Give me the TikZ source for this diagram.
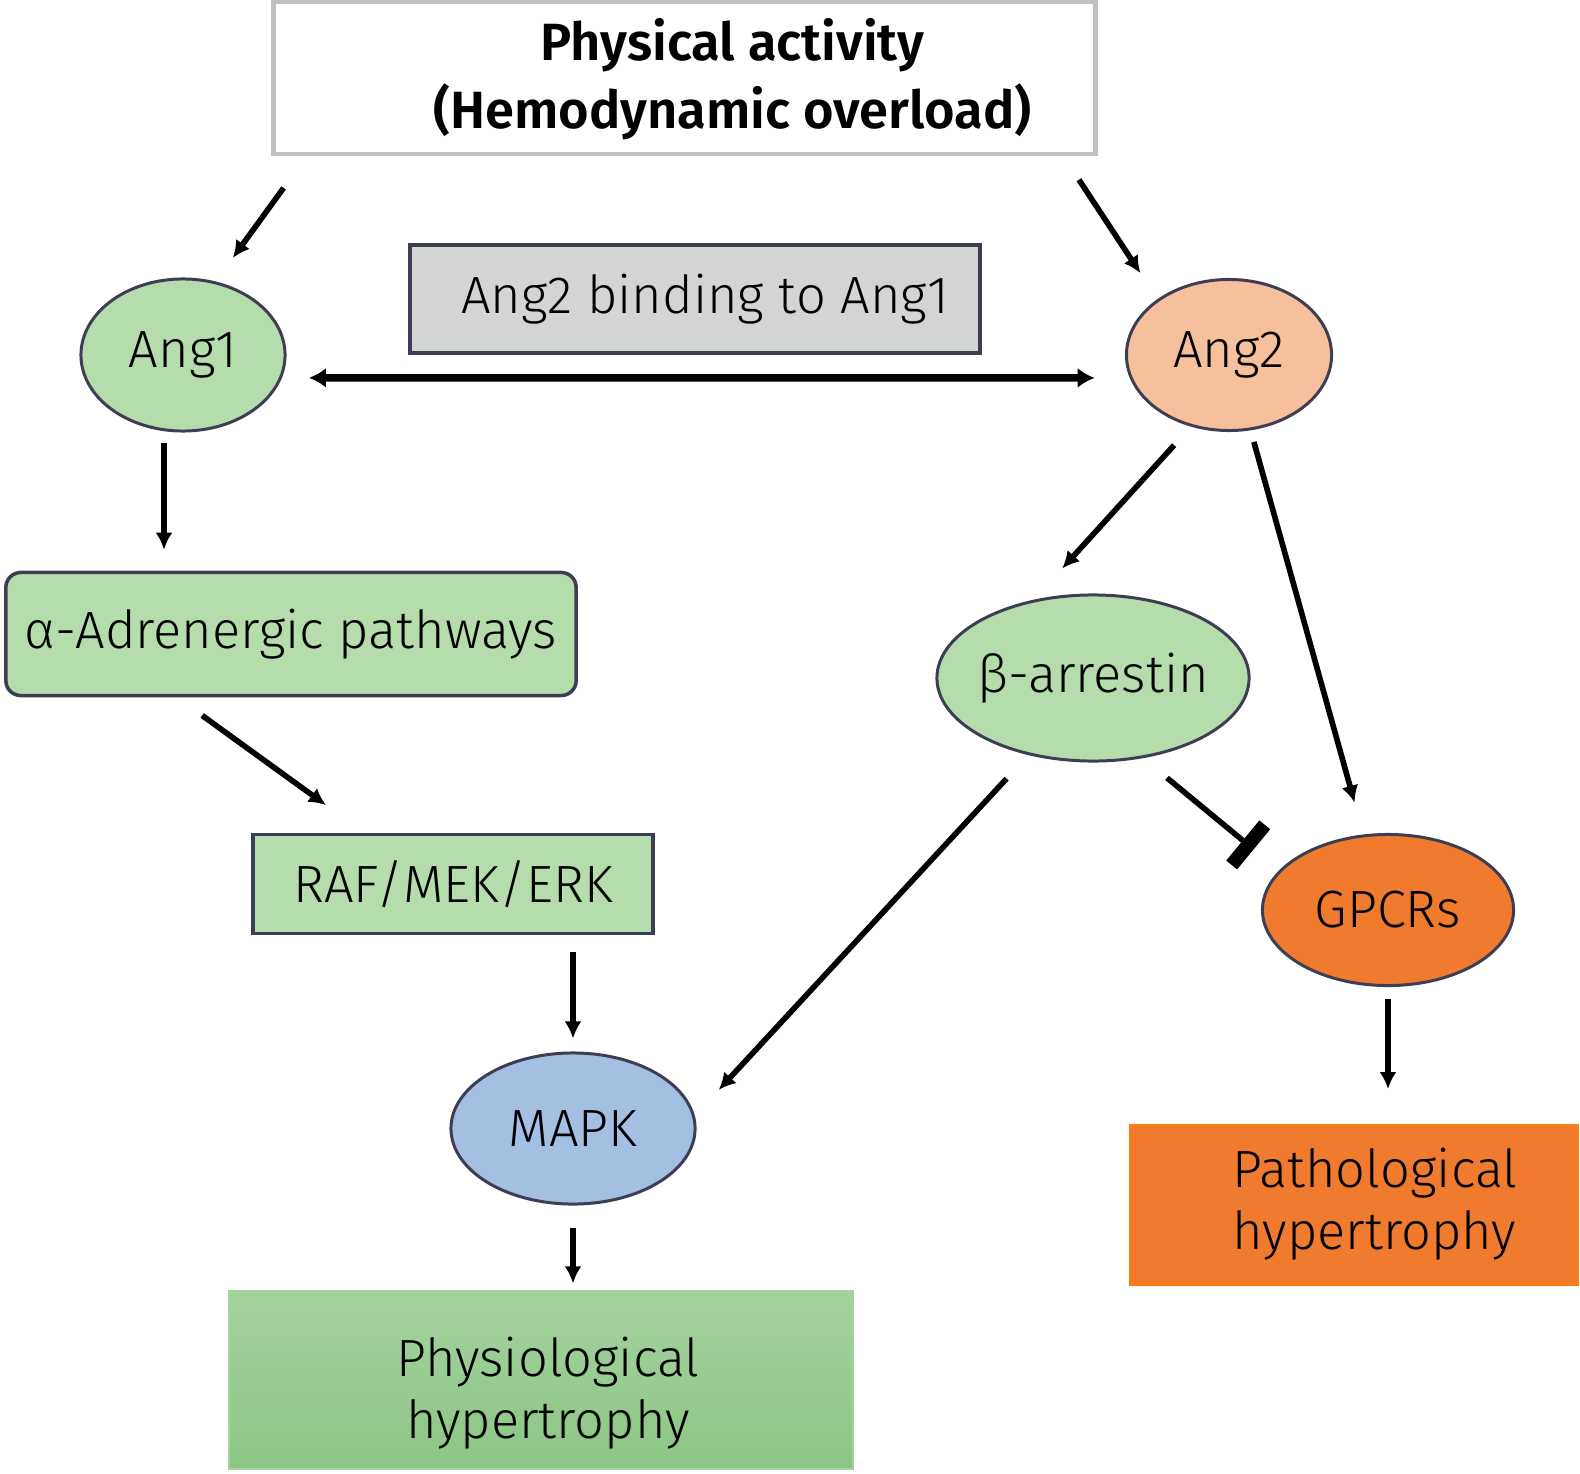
\documentclass[tikz,border=0pt]{standalone}
\usepackage{fontspec}
\setmainfont{Fira Sans}[UprightFont=* Light, BoldFont=* SemiBold]
\usetikzlibrary{positioning, calc, shapes.geometric, arrows.meta}
\definecolor{leafgreen}{HTML}{B5DCAB}
\definecolor{peach}{HTML}{F7C09C}
\definecolor{skyblue}{HTML}{A3BFE2}
\definecolor{tangerine}{HTML}{F07A2E}
\definecolor{slateline}{HTML}{3D3D55}
\definecolor{bindgray}{HTML}{D3D4D4}
\definecolor{physiotop}{HTML}{A4D39E}
\definecolor{physiobot}{HTML}{8BC683}

\begin{document}
\begin{tikzpicture}[x=0.01cm, y=-0.01cm,
    font=\fontsize{14.9}{17.8}\selectfont,
    oval/.style={ellipse, draw=slateline, line width=0.85pt, inner sep=0pt},
    greenbox/.style={rectangle, draw=slateline, line width=1pt, fill=leafgreen, inner sep=0pt},
    arr/.style={-{Latex[length=0.17cm, width=0.17cm]}, line width=1.6pt},
    blockarr/.style={-{Bar[width=0.52cm, line width=0.14cm]}, line width=1.6pt}]
    \useasboundingbox (0,0) rectangle (1580,1473);
    \node[rectangle, draw=black!25, line width=1.3pt, fill=white,
        minimum width=8.21cm, minimum height=1.52cm] (top) at (684.5,78) {};
    \node[align=center, font=\fontsize{14.9}{19.3}\selectfont\bfseries] (toptext) at (732.5,79)
        {Physical activity\\(Hemodynamic overload)};
    \node[rectangle, draw=slateline, line width=1.2pt, fill=bindgray,
        minimum width=5.70cm, minimum height=1.08cm] (bind) at (695,299)
        {\hspace*{0.2cm}Ang2 binding to Ang1};
    \node[oval, fill=leafgreen, minimum width=2.04cm, minimum height=1.52cm] (Ang1) at (183,355) {Ang1};
    \node[oval, fill=peach, minimum width=2.05cm, minimum height=1.51cm] (Ang2) at (1229,355) {Ang2};
    \node[greenbox, rounded corners=0.15cm, minimum width=5.70cm, minimum height=1.23cm] (alpha) at (291,634)
        {α-Adrenergic pathways};
    \node[greenbox, minimum width=4.00cm, minimum height=0.99cm] (raf) at (453,884) {RAF/MEK/ERK};
    \node[oval, fill=skyblue, minimum width=2.44cm, minimum height=1.51cm] (mapk) at (573,1128.5) {MAPK};
    \node[rectangle, draw=physiotop, line width=0.6pt, top color=physiotop, bottom color=physiobot,
        minimum width=6.23cm, minimum height=1.77cm] (physio) at (541,1380) {};
    \node[align=center] (physiotext) at (548,1393) {Physiological\\hypertrophy};
    \node[oval, fill=leafgreen, minimum width=3.12cm, minimum height=1.66cm] (beta) at (1093,678)
        {\makebox[0pt]{β-arrestin}};
    \node[oval, fill=tangerine, minimum width=2.51cm, minimum height=1.51cm] (gpcr) at (1388,910) {GPCRs};
    \node[rectangle, draw=orange!60!tangerine, line width=0.8pt, fill=tangerine,
        minimum width=4.47cm, minimum height=1.59cm] (patho) at (1354,1205) {};
    \node[align=left] (pathotext) at (1375,1204) {Pathological\\hypertrophy};

    \coordinate (a1) at ($(Ang1.south)+(-19,0)$);
    \coordinate (t1) at ($(top.south west)+(35,0)$);
    \coordinate (t2) at ($(top.south east)+(-34,0)$);
    \coordinate (p1) at ($(alpha.south west)+(173,0)$);
    \coordinate (r1) at ($(raf.north west)+(113,0)$);

    \draw[arr, shorten <=0.39cm, shorten >=0.29cm] (t1) -- (Ang1.66);
    \draw[arr, shorten <=0.28cm, shorten >=0.31cm] (t2) -- (Ang2.142);
    \draw[{Latex[length=0.17cm, width=0.2cm]}-{Latex[length=0.17cm, width=0.2cm]}, line width=2.1pt,
        shorten <=0.27cm, shorten >=0.35cm] (Ang1.-13) -- (Ang2.193);
    \draw[arr, shorten <=0.1cm, shorten >=0.21cm] (a1) -- (a1 |- alpha.north);
    \draw[arr, shorten <=0.31cm, shorten >=0.47cm] (p1) -- (r1);
    \draw[arr, shorten <=0.17cm, shorten >=0.13cm] (mapk.north |- raf.south) -- (mapk.north);
    \draw[arr, shorten <=0.22cm, shorten >=0.07cm] (mapk.south) -- (mapk.south |- physio.north);
    \draw[arr, shorten <=0.25cm, shorten >=0.42cm] (Ang2.-118) -- (beta.127);
    \draw[arr, shorten <=0.12cm, shorten >=0.33cm] (Ang2.-74) -- (gpcr.108);
    \draw[arr, shorten <=0.32cm, shorten >=0.35cm] (beta.-130) -- (mapk.6);
    \draw[blockarr, shorten <=0.31cm, shorten >=0.33cm] (beta.-58) -- (gpcr.160);
    \draw[arr, shorten <=0.12cm, shorten >=0.35cm] (gpcr.south) -- (gpcr.south |- patho.north);
\end{tikzpicture}
\end{document}
